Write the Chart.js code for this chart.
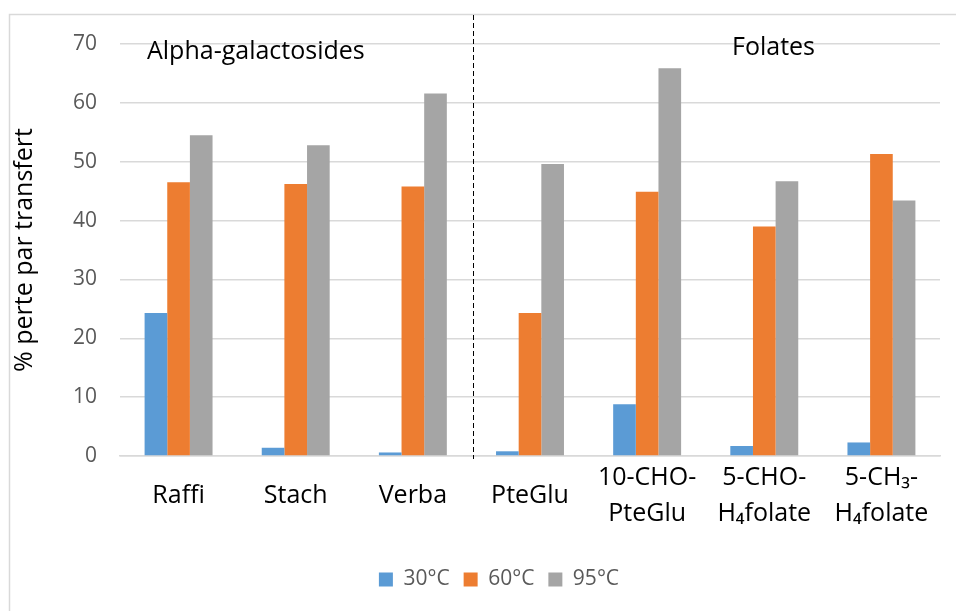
<!DOCTYPE html>
<html>
<head>
<meta charset="utf-8">
<script src="https://cdn.jsdelivr.net/npm/chart.js@4"></script>
<style>
  html, body { margin: 0; padding: 0; background: #fff; }
  #wrap { width: 956px; height: 611px; position: relative; }
</style>
</head>
<body>
<div id="wrap"><canvas id="lossChart"></canvas></div>
<script>
const categories = [
    "Raffi",
    "Stach",
    "Verba",
    "PteGlu",
    ["10-CHO-", "PteGlu"],
    ["5-CHO-", "H\u2084folate"],
    ["5-CH\u2083-", "H\u2084folate"]
];
const temp30 = [24.3, 1.4, 0.6, 0.8, 8.8, 1.7, 2.3];
const temp60 = [46.5, 46.2, 45.8, 24.3, 44.9, 39.0, 51.3];
const temp95 = [54.5, 52.8, 61.6, 49.6, 65.9, 46.7, 43.4];
const yTicks = [0, 10, 20, 30, 40, 50, 60, 70];
const groupNames = ["Alpha-galactosides", "Folates"];

const FONT = "'Open Sans', sans-serif";

// frame, group divider and group titles
const decorPlugin = {
    id: "decor",
    afterLayout(chart) {
        // legend sits a little right of centre in the original
        chart.legend.left += 24;
        chart.legend.right += 24;
    },
    beforeDraw(chart) {
        const ctx = chart.ctx;
        ctx.save();
        ctx.strokeStyle = "#d9d9d9";
        ctx.lineWidth = 1.5;
        ctx.strokeRect(9.5, 14.5, 2000, 2000);
        ctx.restore();
    },
    afterDatasetsDraw(chart) {
        const ctx = chart.ctx;
        const area = chart.chartArea;
        const x = Math.round(chart.scales.x.getPixelForValue(2.5)) + 2.5;
        ctx.save();
        ctx.strokeStyle = "#000";
        ctx.lineWidth = 1;
        ctx.setLineDash([5, 3]);
        ctx.beginPath();
        ctx.moveTo(x, 15);
        ctx.lineTo(x, area.bottom + 3);
        ctx.stroke();
        ctx.setLineDash([]);
        ctx.fillStyle = "#000";
        ctx.font = "25px " + FONT;
        ctx.textBaseline = "middle";
        ctx.textAlign = "left";
        ctx.fillText(groupNames[0], area.left + 27, area.top + 8);
        ctx.fillText(groupNames[1], area.left + 612, area.top + 4);
        ctx.restore();
    }
};

new Chart(document.getElementById("lossChart"), {
    type: "bar",
    data: {
        labels: categories,
        datasets: [
            { label: "30°C", data: temp30, backgroundColor: "#5B9BD5" },
            { label: "60°C", data: temp60, backgroundColor: "#ED7D31" },
            { label: "95°C", data: temp95, backgroundColor: "#A5A5A5" }
        ]
    },
    options: {
        responsive: true,
        maintainAspectRatio: false,
        animation: false,
        datasets: {
            bar: { categoryPercentage: 0.58, barPercentage: 1.0 }
        },
        layout: {
            padding: { left: 10, right: 16, top: 44, bottom: 11 }
        },
        scales: {
            x: {
                afterFit(scale) {
                    scale.height = 99;
                },
                grid: { display: false, drawTicks: false },
                border: { color: "#d9d9d9", width: 1.5 },
                ticks: {
                    color: "#000",
                    // single-line labels get a double line box so they sit centred like the two-line ones
                    font: (c) => ({
                        family: FONT,
                        size: 25,
                        lineHeight: Array.isArray(categories[c.index]) ? "36px" : "72px"
                    }),
                    padding: 4,
                    maxRotation: 0,
                    autoSkip: false
                }
            },
            y: {
                min: 0,
                max: 70,
                afterBuildTicks(scale) {
                    scale.ticks = yTicks.map(v => ({ value: v }));
                },
                afterFit(scale) {
                    scale.width = 110;
                },
                grid: { color: "#d9d9d9", lineWidth: 1.5, drawTicks: false },
                border: { display: false },
                ticks: {
                    color: "#595959",
                    font: { family: FONT, size: 21 },
                    padding: 23
                },
                title: {
                    display: true,
                    text: "% perte par transfert",
                    color: "#000",
                    font: { family: FONT, size: 25 },
                    padding: { top: 0, bottom: 0 }
                }
            }
        },
        plugins: {
            legend: {
                position: "bottom",
                labels: {
                    color: "#595959",
                    font: { family: FONT, size: 21 },
                    boxWidth: 14,
                    boxHeight: 14,
                    padding: 14
                }
            },
            tooltip: { enabled: false }
        }
    },
    plugins: [decorPlugin]
});
</script>
</body>
</html>
